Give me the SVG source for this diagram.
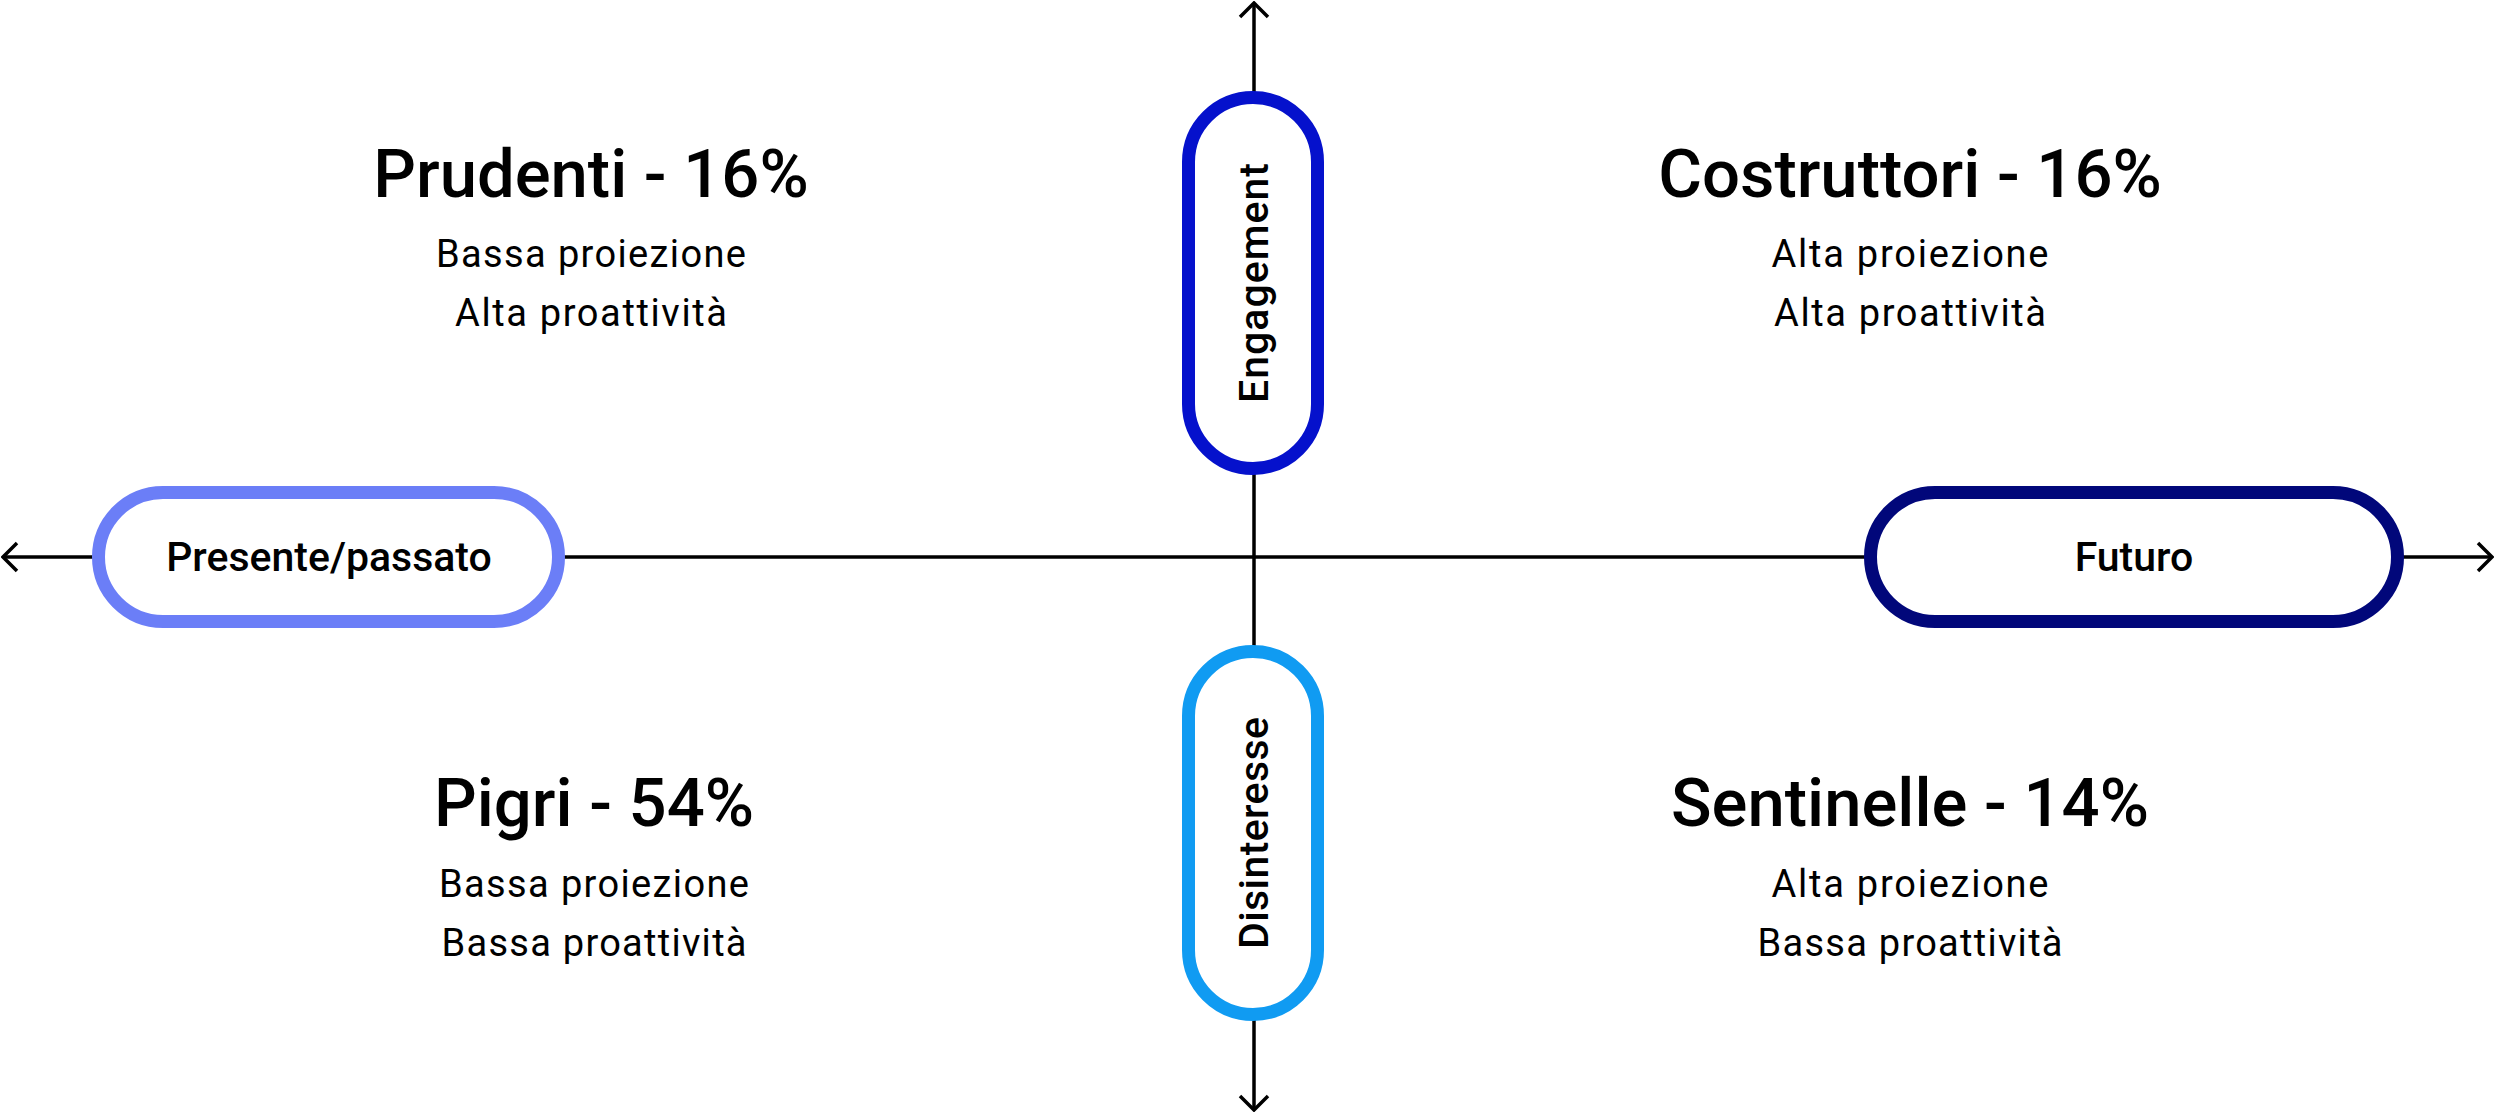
<svg xmlns="http://www.w3.org/2000/svg" width="2496" height="1114" viewBox="0 0 2496 1114">
<style>
.pill{fill:#ffffff;stroke-width:13}
.lbl{font-family:Roboto,"Liberation Sans",sans-serif;font-weight:500;font-size:41px;fill:#000;text-anchor:middle}
.head{font-family:Roboto,"Liberation Sans",sans-serif;font-weight:500;font-size:67px;fill:#000;text-anchor:middle}
.sub{font-family:Roboto,"Liberation Sans",sans-serif;font-weight:400;font-size:38px;fill:#000;text-anchor:middle}
.axis{stroke:#000;stroke-width:3.5;fill:none}
</style>
<defs>
<marker id="arr" markerUnits="userSpaceOnUse" viewBox="-18 -18 20 36" refX="0" refY="0" markerWidth="20" markerHeight="36" orient="auto">
<path d="M -14 -14 L 0 0 L -14 14" fill="none" stroke="#000" stroke-width="3.5"/>
</marker>
</defs>
<rect width="2496" height="1114" fill="#ffffff"/>
<g id="connectors">
<line class="axis" x1="1254" y1="557" x2="3" y2="557" marker-end="url(#arr)"/>
<line class="axis" x1="1254" y1="557" x2="2492" y2="557" marker-end="url(#arr)"/>
<line class="axis" x1="1254" y1="557" x2="1254" y2="3" marker-end="url(#arr)"/>
<line class="axis" x1="1254" y1="557" x2="1254" y2="1110" marker-end="url(#arr)"/>
</g>
<g id="engagement">
<rect class="pill" x="1188.5" y="97.5" width="129" height="371" rx="64.5" stroke="#0511cc"/>
<text class="lbl" transform="translate(1268 283) rotate(-90)" textLength="240" lengthAdjust="spacing">Engagement</text>
</g>
<g id="disinteresse">
<rect class="pill" x="1188.5" y="651.5" width="129" height="363" rx="64.5" stroke="#109bf2"/>
<text class="lbl" transform="translate(1268 833) rotate(-90)" textLength="232" lengthAdjust="spacing">Disinteresse</text>
</g>
<g id="presente">
<rect class="pill" x="98.5" y="492.5" width="460" height="129" rx="64.5" stroke="#6b7ef7"/>
<text class="lbl" x="329" y="571">Presente/passato</text>
</g>
<g id="futuro">
<rect class="pill" x="1870.5" y="492.5" width="527" height="129" rx="64.5" stroke="#01077a"/>
<text class="lbl" x="2134" y="571">Futuro</text>
</g>
<g id="prudenti">
<text class="head" x="591" y="197">Prudenti - 16%</text>
<text class="sub" x="591" y="267" textLength="310" lengthAdjust="spacing">Bassa proiezione</text>
<text class="sub" x="591" y="326" textLength="272" lengthAdjust="spacing">Alta proattività</text>
</g>
<g id="costruttori">
<text class="head" x="1910" y="197">Costruttori - 16%</text>
<text class="sub" x="1910" y="267" textLength="277" lengthAdjust="spacing">Alta proiezione</text>
<text class="sub" x="1910" y="326" textLength="272" lengthAdjust="spacing">Alta proattività</text>
</g>
<g id="pigri">
<text class="head" x="594" y="826">Pigri - 54%</text>
<text class="sub" x="594" y="897" textLength="310" lengthAdjust="spacing">Bassa proiezione</text>
<text class="sub" x="594" y="956" textLength="305" lengthAdjust="spacing">Bassa proattività</text>
</g>
<g id="sentinelle">
<text class="head" x="1910" y="826">Sentinelle - 14%</text>
<text class="sub" x="1910" y="897" textLength="277" lengthAdjust="spacing">Alta proiezione</text>
<text class="sub" x="1910" y="956" textLength="305" lengthAdjust="spacing">Bassa proattività</text>
</g>
</svg>
